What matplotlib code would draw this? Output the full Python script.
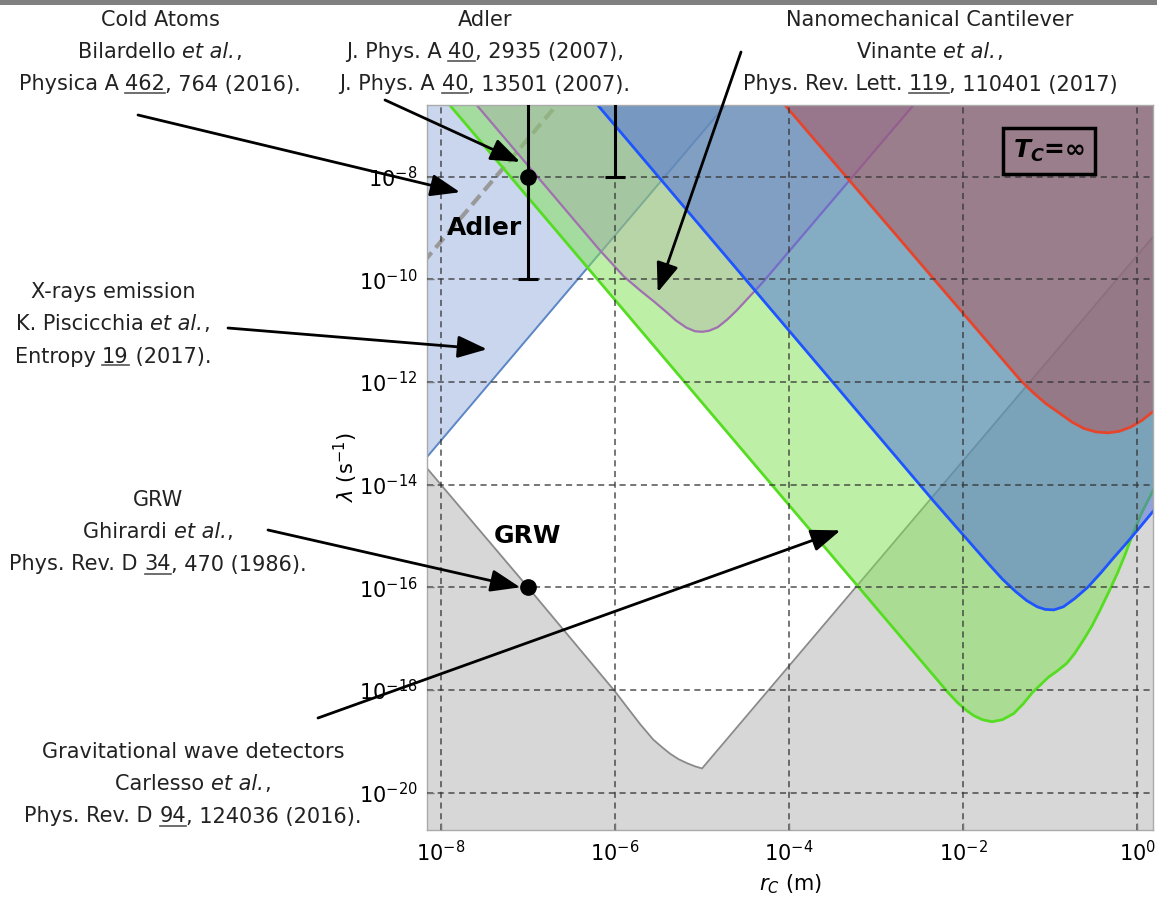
import matplotlib
matplotlib.use("Agg")
import matplotlib.pyplot as plt
import numpy as np
from matplotlib.font_manager import FontProperties
from matplotlib.lines import Line2D
from matplotlib.patches import Rectangle

W_PX, H_PX, DPI = 1157, 905, 100

# bounds on the CSL parameters, as log10(r_C / m) and log10(lambda / s^-1)
GRW_THEORY_X = [-8.2, -7.0, -6.0, -5.86, -5.71, -5.56, -5.45, -5.37, -5.27, -5.17, -5.08, -5.0,
                -4.0, -2.0, 0.2]
GRW_THEORY_Y = [-13.6, -16.0, -18.03, -18.34, -18.67, -18.97, -19.13, -19.24, -19.35, -19.43,
                -19.49, -19.53, -17.53, -13.53, -9.13]

XRAY_X = [-8.2, -4.5]
XRAY_Y = [-13.54, -6.14]

COLD_ATOMS_X = [-8.2, -6.6]
COLD_ATOMS_Y = [-9.66, -6.46]

GW_X = [-8.0, -6.0, -3.87, -2.18, -2.07, -1.97, -1.88, -1.78, -1.67, -1.55, -1.42, -1.31,
        -1.20, -1.10, -1.02, -0.92, -0.81, -0.72, -0.62, -0.52, -0.43, -0.33, -0.23, -0.14,
        -0.05, 0.05, 0.2]
GW_Y = [-6.4, -10.4, -14.66, -18.04, -18.24, -18.39, -18.50, -18.58, -18.62, -18.58, -18.46,
        -18.27, -18.04, -17.88, -17.75, -17.63, -17.48, -17.29, -17.03, -16.75, -16.45, -16.10,
        -15.73, -15.36, -14.95, -14.55, -14.05]

CANTILEVER_X = [-7.7, -6.17, -5.9, -5.7, -5.56, -5.42, -5.3, -5.18, -5.08, -5.0, -4.92, -4.82,
                -4.71, -4.6, -4.48, -4.3, -2.4]
CANTILEVER_Y = [-6.38, -9.44, -9.94, -10.23, -10.42, -10.62, -10.80, -10.94, -11.01, -11.02,
                -11.0, -10.93, -10.78, -10.6, -10.38, -10.05, -6.26]

BLUE_X = [-6.3, -2.34, -2.0, -1.85, -1.7, -1.55, -1.4, -1.27, -1.15, -1.06, -0.96, -0.85,
          -0.72, -0.57, -0.42, -0.27, -0.13, 0.0, 0.2]
BLUE_Y = [-6.4, -14.32, -14.98, -15.27, -15.56, -15.84, -16.08, -16.26, -16.38, -16.43, -16.44,
          -16.38, -16.22, -16.0, -15.72, -15.42, -15.15, -14.89, -14.48]

RED_X = [-4.2, -1.34, -1.2, -1.05, -0.89, -0.75, -0.62, -0.48, -0.34, -0.21, -0.08, 0.05, 0.2]
RED_Y = [-6.3, -11.97, -12.2, -12.42, -12.61, -12.78, -12.90, -12.97, -12.99, -12.96, -12.88,
         -12.75, -12.55]

# Adler's values: lambda = 10^(-8 +/- 2) at 1e-7 m, 10^(-6 +/- 2) at 1e-6 m
ADLER_R = np.array([1e-7, 1e-6])
ADLER_LAM = np.array([1e-8, 1e-6])
ADLER_SPREAD = 100.0
GRW_R, GRW_LAM = 1e-7, 1e-16

# reference blocks: runs are (text, style) with style "" plain, "i" italic, "u" underlined
COLD_ATOMS_TXT = [[("Cold Atoms", "")],
                  [("Bilardello ", ""), ("et al.", "i"), (",", "")],
                  [("Physica A ", ""), ("462", "u"), (", 764 (2016).", "")]]
ADLER_TXT = [[("Adler", "")],
             [("J. Phys. A ", ""), ("40", "u"), (", 2935 (2007),", "")],
             [("J. Phys. A ", ""), ("40", "u"), (", 13501 (2007).", "")]]
CANTILEVER_TXT = [[("Nanomechanical Cantilever", "")],
                  [("Vinante ", ""), ("et al.", "i"), (",", "")],
                  [("Phys. Rev. Lett. ", ""), ("119", "u"), (", 110401 (2017)", "")]]
XRAY_TXT = [[("X-rays emission", "")],
            [("K. Piscicchia ", ""), ("et al.", "i"), (",", "")],
            [("Entropy ", ""), ("19", "u"), (" (2017).", "")]]
GRW_TXT = [[("GRW", "")],
           [("Ghirardi ", ""), ("et al.", "i"), (",", "")],
           [("Phys. Rev. D ", ""), ("34", "u"), (", 470 (1986).", "")]]
GW_TXT = [[("Gravitational wave detectors", "")],
          [("Carlesso ", ""), ("et al.", "i"), (",", "")],
          [("Phys. Rev. D ", ""), ("94", "u"), (", 124036 (2016).", "")]]

TOP, FLOOR = 1e-5, 1e-23


def fx(px):
    return px / W_PX


def fy(py):
    return 1 - py / H_PX


def put_block(fig, renderer, cx, cy, lines, size=15, step=32.5, color="#222222"):
    """Centred multi-line label; cx, cy are pixel positions from the top-left."""
    props = {st: FontProperties(family="DejaVu Sans", size=size,
                                style="italic" if st == "i" else "normal")
             for st in ("", "i", "u")}

    def advance(s, st):
        p = props[st]
        w1 = renderer.get_text_width_height_descent("|" + s + "|", p, ismath=False)[0]
        w0 = renderer.get_text_width_height_descent("||", p, ismath=False)[0]
        return w1 - w0

    for k, runs in enumerate(lines):
        widths = [advance(s, st) for s, st in runs]
        x = cx - sum(widths) / 2
        base = cy + k * step + 0.36 * size * DPI / 72
        for (s, st), w in zip(runs, widths):
            fig.text(fx(x), fy(base), s, fontproperties=props[st], color=color,
                     ha="left", va="baseline")
            if st == "u":
                fig.add_artist(Line2D([fx(x), fx(x + w)], [fy(base + 3)] * 2,
                                      transform=fig.transFigure, color="#555555", lw=1.2))
            x += w


def region(ax, xs, ys, fill, alpha, edge, lw, z, below=False):
    x = 10.0 ** np.asarray(xs)
    y = 10.0 ** np.asarray(ys)
    ax.fill_between(x, FLOOR if below else y, y if below else TOP,
                    color=fill, alpha=alpha, lw=0, zorder=z)
    ax.plot(x, y, color=edge, lw=lw, zorder=z + 0.05, solid_joinstyle="round")


fig = plt.figure(figsize=(W_PX / DPI, H_PX / DPI), dpi=DPI)
fig.add_artist(Rectangle((0, fy(5)), 1, 5 / H_PX, transform=fig.transFigure,
                         color="#808080", lw=0))

ax = fig.add_axes([fx(427), fy(830), 726 / W_PX, 725 / H_PX])
ax.set_xscale("log")
ax.set_yscale("log")
ax.set_xlim(10 ** -8.16, 10 ** 0.18)
ax.set_ylim(10 ** -20.73, 10 ** -6.6)

region(ax, GRW_THEORY_X, GRW_THEORY_Y, "#d7d7d7", 1.0, "#8a8a8a", 1.3, 1.0, below=True)
region(ax, XRAY_X, XRAY_Y, "#97afdf", 0.5, "#5b87c5", 1.4, 1.1)
ax.plot(10.0 ** np.asarray(COLD_ATOMS_X), 10.0 ** np.asarray(COLD_ATOMS_Y),
        color="#999999", lw=3, ls=(0, (3, 1.5)), zorder=1.17)
region(ax, GW_X, GW_Y, "#7fe151", 0.5, "#55dd22", 2.0, 1.2)
region(ax, CANTILEVER_X, CANTILEVER_Y, "#a799a8", 0.3, "#a070b0", 1.6, 1.3)
region(ax, BLUE_X, BLUE_Y, "#4b6ae0", 0.5, "#1f55ff", 2.0, 1.4)
region(ax, RED_X, RED_Y, "#b15156", 0.5, "#e6452c", 2.0, 1.5)

ax.set_xticks(10.0 ** np.arange(-8, 1, 2))
ax.set_yticks(10.0 ** np.arange(-20, -7, 2))
ax.minorticks_off()
ax.set_axisbelow(False)
ax.grid(True, which="major", color="#333333", ls=(0, (4, 3)), lw=1.1, alpha=0.85)
ax.tick_params(which="major", direction="in", length=5, width=1, color="#777777",
               labelsize=15, pad=7)
for sp in ax.spines.values():
    sp.set_color("#aaaaaa")
    sp.set_linewidth(1)

ax.errorbar(ADLER_R, ADLER_LAM, yerr=[ADLER_LAM - ADLER_LAM / ADLER_SPREAD,
                                      ADLER_LAM * ADLER_SPREAD - ADLER_LAM],
            fmt="o", color="k", ms=11, lw=2.2, capsize=7, capthick=2.2, zorder=6)
ax.plot([GRW_R], [GRW_LAM], "o", color="k", ms=11, zorder=6)

ax.text(10 ** -7.5, 1e-9, "Adler", ha="center", va="center", fontsize=18,
        fontweight="bold", zorder=7)
ax.text(1e-7, 1e-15, "GRW", ha="center", va="center", fontsize=18,
        fontweight="bold", zorder=7)
ax.text(0.857, 0.937, r"$\mathbfit{T_C}$=∞", transform=ax.transAxes, ha="center",
        va="center", fontsize=18, fontweight="bold", zorder=7,
        bbox=dict(boxstyle="square,pad=0.4", fc="none", ec="k", lw=2.5))

ax.set_xlabel(r"$r_C$ (m)", fontsize=15)
ax.set_ylabel(r"$\lambda$ (s$^{-1}$)", fontsize=15)
ax.xaxis.set_label_coords(0.5, -0.059)
ax.yaxis.set_label_coords(-0.092, 0.5)

# arrows: tail in figure pixels, head on the data
arrows = [
    ((138, 115), (-7.78, -8.30)),
    ((385, 100), (-7.09, -7.71)),
    ((741, 52), (-5.51, -10.25)),
    ((228, 328), (-7.47, -11.36)),
    ((268, 530), (-7.09, -16.0)),
    ((318, 718), (-3.41, -14.89)),
]
for (tx, ty), (hx, hy) in arrows:
    ax.annotate("", xy=(10 ** hx, 10 ** hy), xycoords="data",
                xytext=(fx(tx), fy(ty)), textcoords="figure fraction",
                annotation_clip=False, zorder=8,
                arrowprops=dict(arrowstyle="-|>,head_length=0.9,head_width=0.34",
                                mutation_scale=20, lw=2.0, color="k",
                                shrinkA=0, shrinkB=0))

renderer = fig.canvas.get_renderer()
put_block(fig, renderer, 160, 18, COLD_ATOMS_TXT)
put_block(fig, renderer, 485, 18, ADLER_TXT)
put_block(fig, renderer, 930, 18, CANTILEVER_TXT)
put_block(fig, renderer, 113, 290, XRAY_TXT)
put_block(fig, renderer, 158, 498, GRW_TXT)
put_block(fig, renderer, 193, 750, GW_TXT)

fig.savefig("out.png", dpi=DPI)
